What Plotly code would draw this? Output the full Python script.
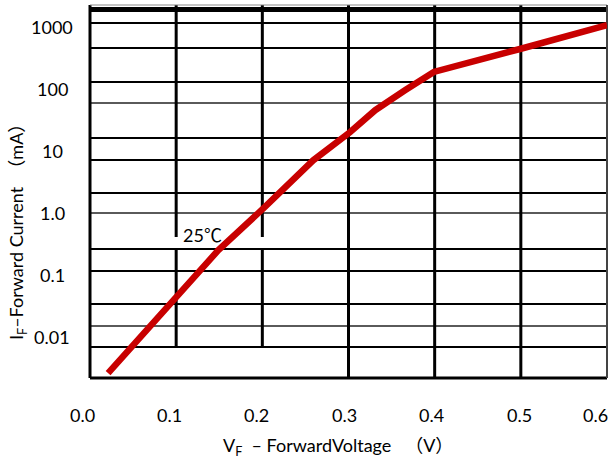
import math
import plotly.graph_objects as go

# ---- data ----
voltage_v = [0.021, 0.102, 0.149, 0.203, 0.259, 0.302, 0.331, 0.366, 0.399, 0.499, 0.600]
current_ma = [0.0026, 0.047, 0.25, 1.24, 7.0, 20, 45, 95, 186, 436, 1060]

x_tick_values = [0.0, 0.1, 0.2, 0.3, 0.4, 0.5, 0.6]
x_tick_labels = ["0.0", "0.1", "0.2", "0.3", "0.4", "0.5", "0.6"]
y_tick_values = [0.001, 0.01, 0.1, 1, 10, 100, 1000]
y_tick_labels = ["0.001", "0.01", "0.1", "1.0", "10", "100", "1000"]

# ---- layout constants ----
W, H = 609, 461
L, R, T, B = 90, 2, 5, 83
PLOT_TOP, PLOT_BOT = T, H - B
PLOT_H = PLOT_BOT - PLOT_TOP
PLOT_W = W - L - R
FONT = "Lato, 'Noto Sans CJK SC', sans-serif"
RED = "#c80000"
FS = 18

def py(ypx):
    """pixel row -> paper y"""
    return (PLOT_BOT - ypx) / PLOT_H

def px(xpx):
    return (xpx - L) / PLOT_W

fig = go.Figure()
fig.add_trace(go.Scatter(
    x=voltage_v, y=current_ma, mode="lines",
    line=dict(color=RED, width=6.5), hoverinfo="skip", showlegend=False,
))

shapes = []
# horizontal grid (drawn chart grid rows, pixel rows)
h_rows = [(23, "black"), (48, "black"), (82, "black"), (103, "#5a5a5a"),
          (138, "black"), (160, "black"), (193, "black"), (213, "#5a5a5a"),
          (249, "black"), (271, "black"), (304, "black"), (326, "#5a5a5a"),
          (347, "black")]
for yy, col in h_rows:
    shapes.append(dict(type="line", xref="paper", yref="paper", x0=0, x1=1,
                       y0=py(yy), y1=py(yy), line=dict(color=col, width=2), layer="below"))
# thick top band
shapes.append(dict(type="line", xref="paper", yref="paper", x0=0, x1=1,
                   y0=py(9.5), y1=py(9.5), line=dict(color="black", width=5), layer="below"))
# vertical grid
for xv in [0.3, 0.4, 0.5]:
    shapes.append(dict(type="line", xref="x", yref="paper", x0=xv, x1=xv, y0=0, y1=1,
                       line=dict(color="black", width=3), layer="below"))
for xv, ybot in [(0.1, 348), (0.2, 347)]:
    shapes.append(dict(type="line", xref="x", yref="paper", x0=xv, x1=xv,
                       y0=py(237), y1=1, line=dict(color="black", width=3), layer="below"))
    shapes.append(dict(type="line", xref="x", yref="paper", x0=xv, x1=xv,
                       y0=py(ybot), y1=py(249), line=dict(color="black", width=3), layer="below"))
# frame
shapes.append(dict(type="line", xref="paper", yref="paper", x0=0, x1=0, y0=0, y1=1,
                   line=dict(color="black", width=3), layer="below"))
shapes.append(dict(type="line", xref="paper", yref="paper", x0=0, x1=1, y0=0, y1=0,
                   line=dict(color="black", width=3), layer="below"))
shapes.append(dict(type="line", xref="paper", yref="paper", x0=0, x1=1, y0=1, y1=1,
                   line=dict(color="#888888", width=1), layer="below"))
shapes.append(dict(type="line", xref="paper", yref="paper", x0=1, x1=1, y0=0, y1=1,
                   line=dict(color="#444444", width=2), layer="below"))

annotations = []
# x tick labels
x_label_shift = [-8, -7, -6, -4, -3, -1, -12]
for v, t, s in zip(x_tick_values, x_tick_labels, x_label_shift):
    annotations.append(dict(x=v, y=py(415), xref="x", yref="paper", text=t,
                            showarrow=False, xanchor="center", yanchor="middle", xshift=s,
                            font=dict(family=FONT, size=FS, color="black")))
# y tick labels (centred column)
for v, t in zip(y_tick_values, y_tick_labels):
    annotations.append(dict(x=px(52), y=math.log10(v), xref="paper", yref="y", text=t,
                            showarrow=False, xanchor="center", yanchor="middle",
                            font=dict(family=FONT, size=FS, color="black")))
# axis titles
annotations.append(dict(x=px(338), y=py(446), xref="paper", yref="paper",
                        text="V<sub>F</sub>  – ForwardVoltage   （V）", showarrow=False,
                        xanchor="center", yanchor="middle",
                        font=dict(family=FONT, size=FS, color="black")))
annotations.append(dict(x=px(18), y=py(228), xref="paper", yref="paper",
                        text="I<sub>F</sub>–Forward Current  （mA）", showarrow=False,
                        textangle=-90, xanchor="center", yanchor="middle",
                        font=dict(family=FONT, size=FS, color="black")))
# temperature label
annotations.append(dict(x=0.13, y=-0.358, xref="x", yref="y", text="25℃",
                        showarrow=False, xanchor="center", yanchor="middle",
                        font=dict(family=FONT, size=FS, color="black")))

y_top = (212.76 - PLOT_TOP) / 62.04
y_bot = (212.76 - PLOT_BOT) / 62.04

fig.update_layout(
    width=W, height=H,
    margin=dict(l=L, r=R, t=T, b=B, pad=0),
    paper_bgcolor="white", plot_bgcolor="white",
    shapes=shapes, annotations=annotations,
    showlegend=False,
    xaxis=dict(range=[0, 0.6], showgrid=False, zeroline=False, showline=False,
               showticklabels=False, ticks="", fixedrange=True),
    yaxis=dict(type="log", range=[y_bot, y_top], showgrid=False, zeroline=False,
               showline=False, showticklabels=False, ticks="", fixedrange=True),
)

fig.write_html("out.html", config={"displayModeBar": False},
               post_script="document.body.style.margin='0px';document.body.style.padding='0px';")
